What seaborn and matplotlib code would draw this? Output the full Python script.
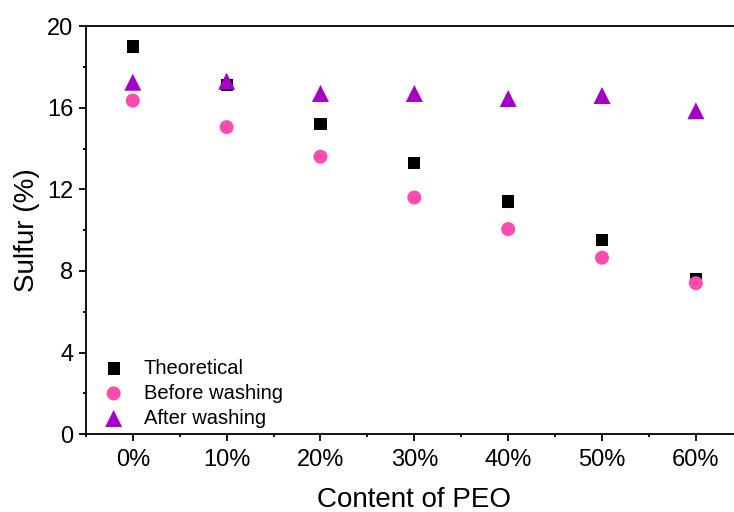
import numpy as np
import pandas as pd
import seaborn as sns
import matplotlib.pyplot as plt
from matplotlib.ticker import MultipleLocator, FixedLocator

peo = ['0%', '10%', '20%', '30%', '40%', '50%', '60%']
theoretical = [19.0, 17.1, 15.2, 13.3, 11.4, 9.5, 7.6]
before_washing = [16.35, 15.05, 13.6, 11.6, 10.05, 8.65, 7.4]
after_washing = [17.25, 17.3, 16.7, 16.7, 16.45, 16.6, 15.85]

df = pd.DataFrame({
    'PEO': peo * 3,
    'Sulfur': theoretical + before_washing + after_washing,
    'Series': ['Theoretical'] * 7 + ['Before washing'] * 7 + ['After washing'] * 7,
})

sns.set_style('ticks')
plt.rcParams['font.family'] = ['Liberation Sans', 'DejaVu Sans']
plt.rcParams.update({'text.color': 'black', 'axes.labelcolor': 'black',
                     'xtick.color': 'black', 'ytick.color': 'black',
                     'axes.edgecolor': 'black'})

fig = plt.figure(figsize=(7.34, 5.12), dpi=100)
ax = fig.add_axes([0.117, 0.152, 0.895, 0.797])

palette = {'Theoretical': '#000000', 'Before washing': '#ff4aae', 'After washing': '#a500c8'}
markers = {'Theoretical': 's', 'Before washing': 'o', 'After washing': '^'}
sizes = {'Theoretical': 78, 'Before washing': 102, 'After washing': 150}

for name in ['Theoretical', 'Before washing', 'After washing']:
    sub = df[df['Series'] == name]
    sns.scatterplot(data=sub, x='PEO', y='Sulfur', ax=ax, color=palette[name],
                    marker=markers[name], s=sizes[name], edgecolor='none',
                    label=name, zorder=3)

ax.set_xlim(-0.5, 6.5)
ax.set_ylim(0, 20)
ax.yaxis.set_major_locator(MultipleLocator(4))
ax.yaxis.set_minor_locator(MultipleLocator(2))
ax.xaxis.set_minor_locator(FixedLocator(np.arange(-0.5, 7, 1)))

for s in ['left', 'bottom', 'top']:
    ax.spines[s].set_linewidth(1.3)
ax.spines['right'].set_visible(False)
ax.tick_params(which='major', direction='out', length=5, width=1.3, labelsize=17, top=False)
ax.tick_params(axis='x', which='major', pad=6)
ax.tick_params(axis='y', which='major', pad=4)
ax.tick_params(which='minor', direction='out', length=2.5, width=1.3, top=False)

ax.set_xlabel('Content of PEO', fontsize=20, labelpad=11)
ax.set_ylabel('Sulfur (%)', fontsize=20, labelpad=5)

ax.legend(loc='lower left', frameon=False, fontsize=14.5, bbox_to_anchor=(0.007, -0.004),
          handletextpad=0.75, labelspacing=0.3, borderaxespad=0.0, handlelength=1.5)

fig.savefig('out.png', dpi=100)
